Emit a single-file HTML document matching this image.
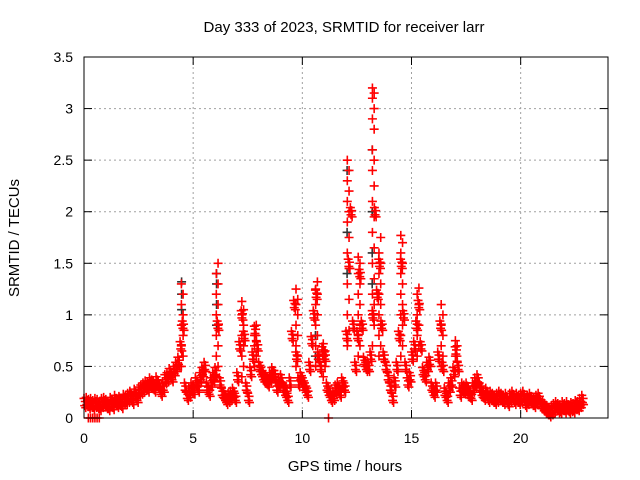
<!DOCTYPE html>
<html><head><meta charset="utf-8"><style>
body{margin:0;background:#fff;width:640px;height:480px;overflow:hidden}
svg{display:block;font-family:"Liberation Sans",sans-serif}
</style></head><body>
<svg id="c" width="640" height="480">
<text x="344" y="32" font-size="15" text-anchor="middle">Day 333 of 2023, SRMTID for receiver larr</text>
<text x="345" y="471" font-size="15" text-anchor="middle">GPS time / hours</text>
<text transform="translate(19,238) rotate(-90)" font-size="15" text-anchor="middle">SRMTID / TECUs</text>
<g id="grid"></g>
<g id="ticks"></g>
<g id="black"></g>
<g id="red"></g>
<rect x="84" y="57" width="524" height="361" fill="none" stroke="#000" stroke-width="1"/>
</svg>
<script>
const xTicks=[0,5,10,15,20];
const yTicks=[0,0.5,1,1.5,2,2.5,3,3.5];
const yTickLabels=["0","0.5","1","1.5","2","2.5","3","3.5"];
const baseStart=0, baseStep=0.1;
const baseValues=[.15,.16,.14,.15,.13,.15,.14,.12,.15,.16,
.14,.12,.16,.13,.18,.15,.17,.14,.19,.18,
.2,.22,.18,.24,.2,.26,.28,.3,.32,.3,
.35,.33,.3,.36,.32,.26,.3,.38,.4,.44,
.4,.46,.5,.55,.7,.9,.3,.22,.25,.3,
.28,.35,.3,.4,.45,.5,.3,.26,.35,.4,
.45,.9,.35,.25,.22,.18,.2,.22,.25,.2,
.4,.7,1.0,.8,.3,.2,.45,.6,.85,.7,
.5,.45,.4,.38,.35,.4,.45,.42,.3,.35,
.38,.3,.25,.2,.35,.8,1.1,.6,.35,.4,
.35,.3,.25,.5,.75,1.0,1.2,.6,.5,.65,
.6,.3,.25,.2,.22,.28,.3,.25,.35,.3,
.8,1.5,2.0,.9,.5,.8,1.4,.9,.55,.5,
.5,.6,1.0,2.0,1.2,1.5,.9,.6,.5,.4,
.3,.2,.35,.5,.8,1.5,1.0,.5,.35,.4,
.6,.7,.9,1.1,.7,.45,.4,.5,.55,.3,
.25,.3,.6,.9,.5,.25,.2,.3,.35,.45,
.65,.5,.25,.3,.28,.3,.25,.22,.3,.35,
.38,.3,.25,.22,.25,.2,.22,.2,.18,.2,
.22,.2,.18,.2,.16,.2,.22,.18,.2,.18,
.2,.22,.15,.18,.2,.17,.15,.18,.2,.14,
.12,.1,.08,.06,.08,.1,.12,.1,.09,.12,
.1,.12,.09,.11,.1,.13,.12,.15,.18];
const spikeTimes=[4.5,6.1,7.27,7.85,9.75,10.65,11.0,12.1,12.6,13.25,13.55,14.55,15.3,16.4,17.05];
const spikeValues=[[.5,.6,.7,.8,.9,1.0,1.1,1.2,1.3],[.4,.5,.6,.7,.8,.9,1.0,1.1,1.2,1.3,1.4,1.5],[.4,.5,.6,.7,.8,.9,1.0,1.05,1.13],[.5,.6,.7,.75,.8,.9],[.5,.6,.7,.8,.9,1.0,1.1,1.15,1.25],[.5,.6,.7,.8,.9,1.0,1.1,1.2,1.25,1.32],[.4,.5,.6,.65,.72],[.7,.85,1.0,1.15,1.3,1.45,1.6,1.75,1.9,2.0,2.1,2.2,2.3,2.4,2.5],[.6,.7,.8,.9,1.0,1.1,1.2,1.3,1.4,1.5,1.56],[.7,.9,1.0,1.1,1.2,1.35,1.5,1.65,1.8,1.95,2.1,2.25,2.4,2.5,2.6,2.8,2.9,3.0,3.1,3.15,3.2],[.6,.7,.8,.9,1.0,1.1,1.2,1.3,1.4,1.5,1.6,1.75],[.6,.7,.8,.9,1.0,1.1,1.2,1.3,1.4,1.5,1.6,1.7,1.77],[.6,.7,.8,.9,1.0,1.1,1.2,1.26],[.5,.6,.7,.8,.9,1.0,1.1],[.45,.55,.6,.7,.75]];
const zeroTimes=[0.2,0.3,0.4,0.5,0.6,0.7,11.2];
const blackTimes=[4.47,6.07,10.6,12.05,13.2];
const blackValues=[[.9,1.05,1.2,1.32],[.9,1.1,1.3,1.4],[.6,.8],[1.4,1.8,2.4],[1.3,1.6,2.0,2.6]];
const X=t=>84+t*(524/24), Y=v=>418-v*(361/3.5);
const NS="http://www.w3.org/2000/svg";
function mk(tag,at,parent){const e=document.createElementNS(NS,tag);for(const k in at)e.setAttribute(k,at[k]);parent.appendChild(e);return e;}
const grid=document.getElementById('grid'),ticks=document.getElementById('ticks');
yTicks.forEach((v,i)=>{const y=Y(v);
 if(i>0&&i<yTicks.length-1){const g=mk('line',{x1:84,x2:608,y1:y,y2:y,stroke:'#a0a0a0','stroke-dasharray':'2,3'},grid);
 
 }
 mk('line',{x1:84,x2:92,y1:y,y2:y,stroke:'#000'},ticks);mk('line',{x1:600,x2:608,y1:y,y2:y,stroke:'#000'},ticks);
 const t=mk('text',{x:73,y:y+5,'font-size':14,'text-anchor':'end'},ticks);t.textContent=yTickLabels[i];
 
 });
xTicks.forEach(v=>{const x=X(v);
 if(v>0){const g=mk('line',{x1:x,x2:x,y1:57,y2:418,stroke:'#a0a0a0','stroke-dasharray':'2,3'},grid);
 
 }
 mk('line',{x1:x,x2:x,y1:410,y2:418,stroke:'#000'},ticks);mk('line',{x1:x,x2:x,y1:57,y2:65,stroke:'#000'},ticks);
 const t=mk('text',{x:x,y:443,'font-size':14,'text-anchor':'middle'},ticks);t.textContent=String(v);
 
 });
function plus(t,v,col,g){const x=X(t),y=Y(v);
 const p=mk('path',{d:`M${x-4.5},${y}H${x+4.5}M${x},${y-4.5}V${y+4.5}`,stroke:col,'stroke-width':1.6,fill:'none'},g);
 
 }
const red=document.getElementById('red'),black=document.getElementById('black');
blackTimes.forEach((t,i)=>blackValues[i].forEach(v=>plus(t,v,'#333',black)));
baseValues.forEach((v,i)=>{const t=baseStart+i*baseStep;
 plus(t,v+0.04,'#f00',red);plus(t+0.03,v-0.03,'#f00',red);plus(t+0.06,v+0.01,'#f00',red);plus(t+0.08,v-0.05,'#f00',red);});
spikeTimes.forEach((t,i)=>spikeValues[i].forEach((v,j)=>plus(t+(j%2?0.04:-0.04),v,'#f00',red)));
zeroTimes.forEach(t=>plus(t,0,'#f00',red));
</script>
</body></html>
